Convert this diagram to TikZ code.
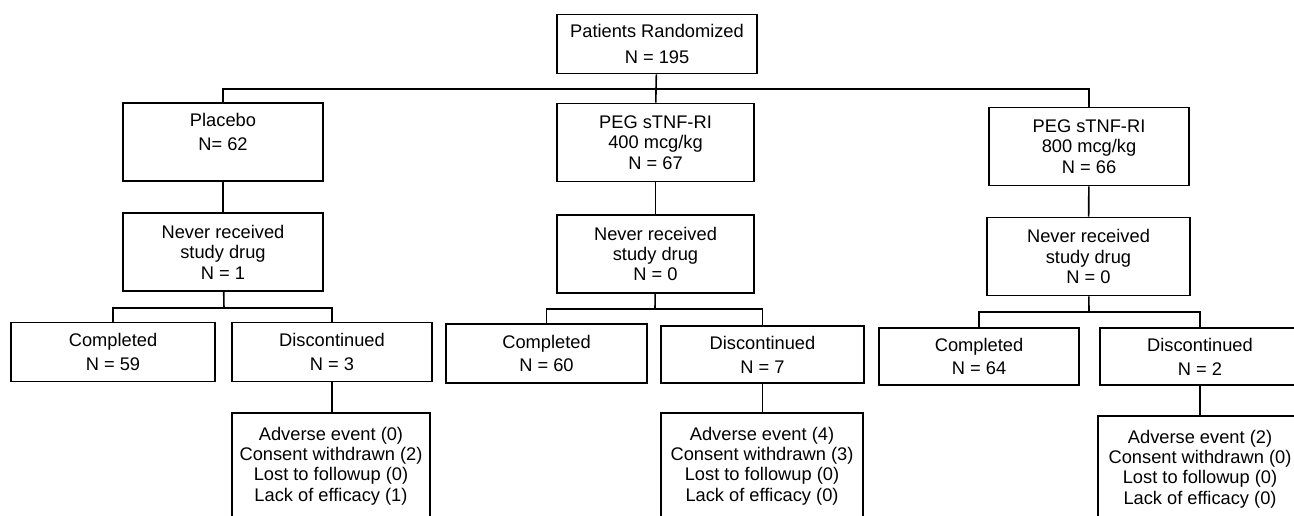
\documentclass[tikz,border=0pt]{standalone}
\usepackage{fontspec}
\setmainfont{Liberation Sans}
\usepackage{tikz}

\begin{document}
\begin{tikzpicture}[
            x = 0.02cm, y = -0.02cm, % one unit = one pixel, y downwards
            font = \fontsize{10.4}{11.6}\selectfont,
            line width = 0.9pt % connector style
        ]

        \tikzstyle{every node}=[
            align = center,
            inner sep = 1pt
        ]
        \tikzstyle{box}=[
            draw = black,
            line width = 1.1pt,
            minimum width = 4cm,
            minimum height = 1.56cm
        ]
        \tikzstyle{smallbox}=[box, minimum height = 1.18cm]
        \tikzstyle{whybox}=[box, minimum height = 2.12cm]

        \useasboundingbox (0,0) rectangle (1294,515);

        % randomization and the three arms
        \node[smallbox] (rand) at (657,44) {Patients Randomized\\[3pt]N = 195};
        \node[box] (plac) at (223,142) {Placebo\\[2pt]N= 62\\~};
        \node[box, minimum width = 3.94cm] (low) at (655.5,142.5) {PEG sTNF-RI\\400 mcg/kg\\N = 67};
        \node[box] (high) at (1089,146.5) {PEG sTNF-RI\\800 mcg/kg\\N = 66};

        % never dosed
        \node[box] (never1) at (223,252) {Never received\\study drug\\N = 1};
        \node[box, minimum width = 3.94cm] (never2) at (655.5,254) {Never received\\study drug\\N = 0};
        \node[box, minimum width = 4.06cm] (never3) at (1088.5,256.5) {Never received\\study drug\\N = 0};

        % outcome per arm
        \node[smallbox, minimum width = 4.08cm] (comp1) at (113,352) {Completed\\[2pt]N = 59};
        \node[smallbox] (disc1) at (332,352) {Discontinued\\[2pt]N = 3};
        \node[smallbox, minimum width = 4.02cm] (comp2) at (546.5,353.5) {Completed\\[2pt]N = 60};
        \node[smallbox, minimum width = 4.06cm, minimum height = 1.14cm] (disc2) at (762.5,354.5) {Discontinued\\[2pt]N = 7};
        \node[smallbox, minimum height = 1.14cm] (comp3) at (979,356.5) {Completed\\[2pt]N = 64};
        \node[smallbox, minimum height = 1.14cm] (disc3) at (1200,356.5) {Discontinued\\[2pt]N = 2};

        % reasons for discontinuation
        \node[whybox, minimum width = 3.96cm] (why1) at (331,466) {Adverse event (0)\\Consent withdrawn (2)\\Lost to followup (0)\\Lack of efficacy (1)};
        \node[whybox, minimum width = 4.04cm] (why2) at (762,466) {Adverse event (4)\\Consent withdrawn (3)\\Lost to followup (0)\\Lack of efficacy (0)};
        \node[whybox, minimum width = 4.1cm] (why3) at (1200,469) {Adverse event (2)\\Consent withdrawn (0)\\Lost to followup (0)\\Lack of efficacy (0)};

        % branch points
        \coordinate (j0) at (656,89);
        \coordinate (j1) at (224,308);
        \coordinate (j2) at (655,309);
        \coordinate (j3) at (1089,312);

        \draw (rand) -- (j0);
        \draw (j0) -| (plac);
        \draw (j0) -| (high);
        \draw (j0) -- (low);

        \draw (plac) -- (never1);
        \draw (low) -- (never2);
        \draw (high) -- (never3);

        \draw (never1) -- (j1);
        \draw (j1) -| (comp1);
        \draw (j1) -| (disc1);
        \draw (never2) -- (j2);
        \draw (j2) -| (comp2);
        \draw (j2) -| (disc2);
        \draw (never3) -- (j3);
        \draw (j3) -| (comp3);
        \draw (j3) -| (disc3);

        \draw (disc1) -- (disc1 |- why1.north);
        \draw (disc2) -- (disc2 |- why2.north);
        \draw (disc3) -- (disc3 |- why3.north);

  \end{tikzpicture}
\end{document}
